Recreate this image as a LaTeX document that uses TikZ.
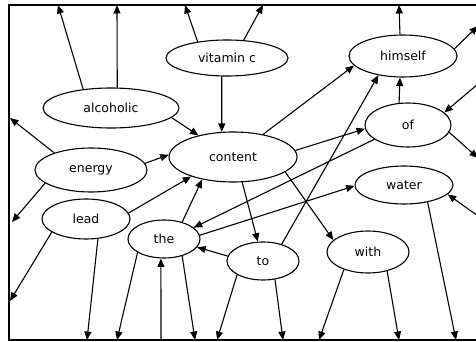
\documentclass[tikz,border=0pt]{standalone}
\usepackage{fontspec}
\setmainfont{DejaVu Sans}
\usetikzlibrary{shapes.geometric,arrows.meta}
\begin{document}
\begin{tikzpicture}[x=1pt,y=-1pt,
  word/.style={ellipse,draw,line width=1.1pt,inner sep=0pt,font=\fontsize{12.5}{14}\selectfont},
  arr/.style={line width=1.1pt,-{Triangle[length=8.5pt,width=7pt]}},
  framestyle/.style={line width=1.3pt}]
\useasboundingbox (0,0) rectangle (476,342);
% frame
\coordinate (fa) at (480,5);
\coordinate (fb) at (9,5);
\coordinate (fc) at (9,340);
\coordinate (fd) at (480,340);
\draw[framestyle] (fa) -- (fb) -- (fc) -- (fd);
% nodes
\node[word,minimum width=122pt,minimum height=36pt] (vit) at (227,58) {vitamin c};
\node[word,minimum width=108pt,minimum height=42pt] (him) at (403,56) {himself};
\node[word,minimum width=136pt,minimum height=40pt] (alc) at (111,108) {alcoholic};
\node[word,minimum width=128pt,minimum height=50pt] (con) at (233,157) {content};
\node[word,minimum width=86pt,minimum height=44pt] (of) at (408,125) {of};
\node[word,minimum width=112pt,minimum height=44pt] (ene) at (91,170) {energy};
\node[word,minimum width=88pt,minimum height=40pt] (lead) at (86,219) {lead};
\node[word,minimum width=72pt,minimum height=38pt] (the) at (164,239) {the};
\node[word,minimum width=72pt,minimum height=38pt] (to) at (263,261) {to};
\node[word,minimum width=82pt,minimum height=42pt] (with) at (368,252) {with};
\node[word,minimum width=98pt,minimum height=38pt] (water) at (404,185) {water};
% free ends
\coordinate (t1) at (58,5);
\coordinate (t2) at (117,5);
\coordinate (t3) at (185,5);
\coordinate (t4) at (263,5);
\coordinate (t5) at (399,5);
\coordinate (r1) at (478,26);
\coordinate (r2) at (478,84);
\coordinate (r3) at (478,158);
\coordinate (r4) at (478,216);
\coordinate (l1) at (10,118);
\coordinate (l2) at (12,222);
\coordinate (l3) at (10,301);
\coordinate (b1) at (87,340);
\coordinate (b2) at (117,340);
\coordinate (b3) at (161,340);
\coordinate (b4) at (195,340);
\coordinate (b5) at (217,340);
\coordinate (b6) at (283,340);
\coordinate (b7) at (319,340);
\coordinate (b8) at (399,340);
\coordinate (b9) at (456,340);
% edges
\draw[arr] (alc.146) -- (t1);
\draw[arr] (alc.73) -- (t2);
\draw[arr] (vit.151) -- (t3);
\draw[arr] (vit.47) -- (t4);
\draw[arr] (him.98) -- (t5);
\draw[arr] (him.8) -- (r1);
\draw[arr] (vit.254) -- (con.114);
\draw[arr] (alc.351) -- (con.148);
\draw[arr] (ene.7) -- (con.178);
\draw[arr] (ene.155) -- (l1);
\draw[arr] (ene.196) -- (l2);
\draw[arr] (lead.8) -- (con.205);
\draw[arr] (lead.201) -- (l3);
\draw[arr] (lead.301) -- (b1);
\draw[arr] (the.43) -- (con.216);
\draw[arr] (the.207) -- (b2);
\draw[arr] (b3) -- (the.261);
\draw[arr] (the.317) -- (b4);
\draw[arr] (to.208) -- (b5);
\draw[arr] (to.172) -- (the.346);
\draw[arr] (of.203) -- (the.21);
\draw[arr] (con.6) -- (of.185);
\draw[arr] (con.37) -- (him.191);
\draw[arr] (to.42) -- (him.218);
\draw[arr] (of.112) -- (him.262);
\draw[arr] (r2) -- (of.19);
\draw[arr] (of.350) -- (r3);
\draw[arr] (r4) -- (water.348);
\draw[arr] (the.6) -- (water.181);
\draw[arr] (con.290) -- (to.105);
\draw[arr] (con.344) -- (with.161);
\draw[arr] (to.303) -- (b6);
\draw[arr] (with.216) -- (b7);
\draw[arr] (with.315) -- (b8);
\draw[arr] (water.324) -- (b9);
\end{tikzpicture}
\end{document}
